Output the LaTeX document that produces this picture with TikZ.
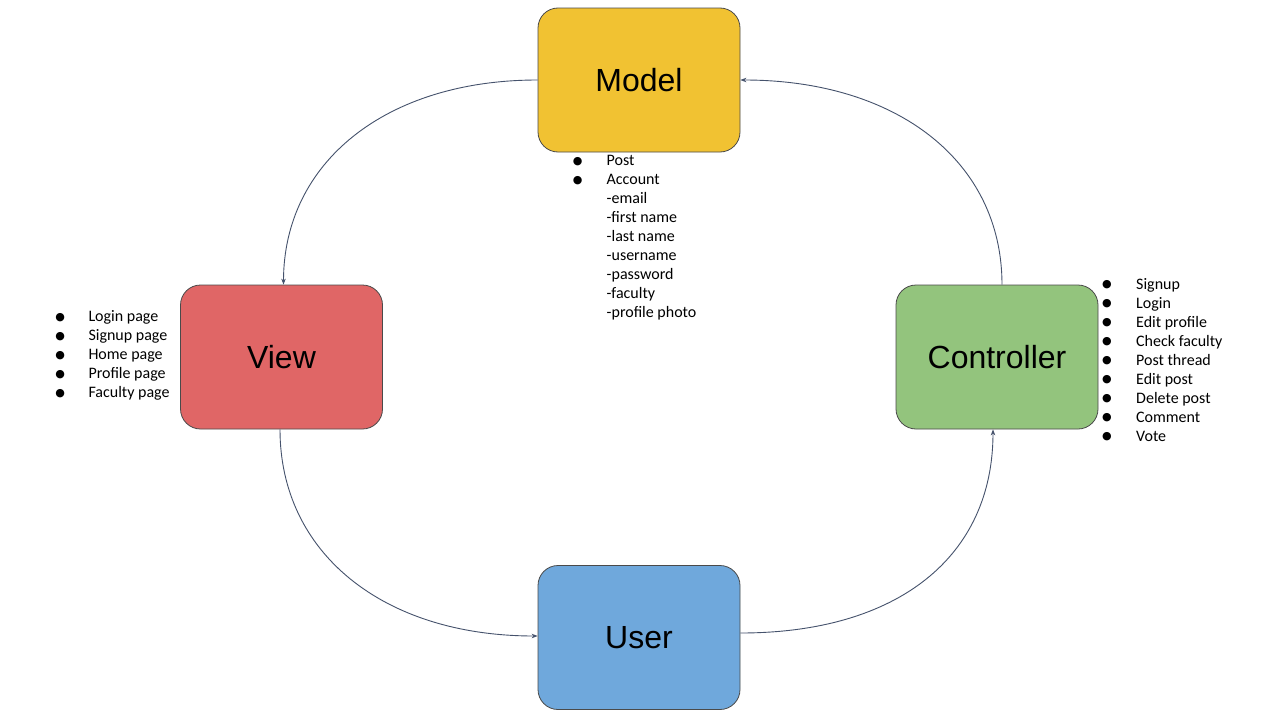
\documentclass[tikz,border=0pt]{standalone}
\usepackage{fontspec}
\setmainfont{Liberation Sans}
\newfontfamily\carlito{Carlito}
\newfontfamily\dejavu{DejaVu Sans}
\usetikzlibrary{arrows.meta}
\definecolor{modelc}{HTML}{F1C232}
\definecolor{viewc}{HTML}{E06666}
\definecolor{ctrlc}{HTML}{93C47D}
\definecolor{userc}{HTML}{6FA8DC}
\definecolor{boxline}{HTML}{4A4A4A}
\definecolor{linkc}{HTML}{45526C}
\newcommand\bul{\makebox[0pt]{\raisebox{1.5pt}{\dejavu\fontsize{11}{11}\selectfont ●}}}
\begin{document}
\begin{tikzpicture}[x=1pt,y=-1pt,
  box/.style={draw=boxline, line width=0.8pt, rounded corners=20pt,
    minimum width=202pt, minimum height=144pt, inner sep=0pt,
    font=\fontsize{32}{38}\selectfont},
  link/.style={draw=linkc, line width=0.9pt, -{Stealth[length=6pt,width=4.5pt]}},
  lst/.style={anchor=base west, inner sep=0pt, font=\carlito\fontsize{16}{19}\selectfont}]
\fill[white] (0,0) rectangle (1280,720);
\path[use as bounding box] (0,0) rectangle (1280,720);

\node[box, fill=modelc] (model) at (639,80) {Model};
\node[box, fill=viewc] (view) at (281.5,357) {View};
\node[box, fill=ctrlc] (ctrl) at (997,357) {Controller};
\node[box, fill=userc] (user) at (639,637.5) {User};

\draw[link] (model.west) .. controls +(-152,0) and +(0,-122) .. ([xshift=2pt]view.north);
\draw[link] ([xshift=-1.5pt]view.south) .. controls +(0,124) and +(-154,0) .. ([yshift=1.5pt]user.west);
\draw[link] ([yshift=4.5pt]user.east) .. controls +(158,0) and +(0,127) .. ([xshift=-4pt]ctrl.south);
\draw[link] ([xshift=5pt]ctrl.north) .. controls +(0,-123) and +(157,0) .. (model.east);

\node[lst] (mlist) at (577.5,165.5) {\begin{tabular}[t]{@{}p{29pt}@{}l@{}}
\bul & Post\\
\bul & Account\\
 & -email\\
 & -first name\\
 & -last name\\
 & -username\\
 & -password\\
 & -faculty\\
 & -profile photo
\end{tabular}};

\node[lst] (vlist) at (60,321.7) {\begin{tabular}[t]{@{}p{28.3pt}@{}l@{}}
\bul & Login page\\
\bul & Signup page\\
\bul & Home page\\
\bul & Profile page\\
\bul & Faculty page
\end{tabular}};

\node[lst] (clist) at (1106.7,289) {\begin{tabular}[t]{@{}p{29.3pt}@{}l@{}}
\bul & Signup\\
\bul & Login\\
\bul & Edit profile\\
\bul & Check faculty\\
\bul & Post thread\\
\bul & Edit post\\
\bul & Delete post\\
\bul & Comment\\
\bul & Vote
\end{tabular}};
\end{tikzpicture}
\end{document}
